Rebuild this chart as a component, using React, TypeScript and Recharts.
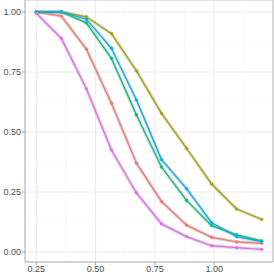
import React from "react";
import { LineChart, Line, XAxis, YAxis, ReferenceLine } from "recharts";

const xValues = [0.25, 0.3556, 0.4611, 0.5667, 0.6722, 0.7778, 0.8833, 0.9889, 1.0944, 1.2];

const redSeries = [1.0, 0.983, 0.845, 0.62, 0.37, 0.21, 0.112, 0.061, 0.042, 0.036];
const oliveSeries = [1.0, 1.0, 0.98, 0.91, 0.755, 0.578, 0.432, 0.283, 0.179, 0.136];
const greenSeries = [1.0, 1.0, 0.955, 0.807, 0.571, 0.354, 0.215, 0.11, 0.071, 0.046];
const blueSeries = [1.0, 1.0, 0.97, 0.849, 0.633, 0.385, 0.264, 0.122, 0.064, 0.043];
const purpleSeries = [0.995, 0.89, 0.68, 0.425, 0.246, 0.117, 0.064, 0.026, 0.018, 0.011];

const xTicks = [0.25, 0.5, 0.75, 1.0];
const yTicks = [0, 0.25, 0.5, 0.75, 1.0];
const xMinor = [0.375, 0.625, 0.875, 1.125];
const yMinor = [0.125, 0.375, 0.625, 0.875];

const series = [
  { key: "red", color: "#F8766D", values: redSeries },
  { key: "olive", color: "#A3A500", values: oliveSeries },
  { key: "green", color: "#00BF7D", values: greenSeries },
  { key: "blue", color: "#00B0F6", values: blueSeries },
  { key: "purple", color: "#E76BF3", values: purpleSeries },
];

const data = xValues.map((x, i) => {
  const row: Record<string, number> = { x };
  series.forEach((s) => {
    row[s.key] = s.values[i];
  });
  return row;
});

const tickStyle = { fontSize: 9, fill: "#4D4D4D", fontFamily: "Liberation Sans, Arial, sans-serif" };

export default function App() {
  return (
    <div style={{ position: "absolute", left: 0, top: 0, width: 274, height: 274, background: "#fff" }}>
      <LineChart width={274} height={274} data={data} margin={{ top: 0, right: 1, left: 0, bottom: 0 }}>
        <XAxis
          dataKey="x"
          type="number"
          domain={[0.2025, 1.2475]}
          ticks={xTicks}
          tickFormatter={(v: number) => v.toFixed(2)}
          tick={tickStyle}
          tickSize={3}
          tickMargin={1}
          height={12}
          stroke="#A6A6A6"
          allowDataOverflow
        />
        <YAxis
          type="number"
          domain={[-0.0417, 1.05]}
          ticks={yTicks}
          tickFormatter={(v: number) => v.toFixed(2)}
          tick={tickStyle}
          tickSize={3}
          tickMargin={1}
          width={25}
          stroke="#A6A6A6"
          allowDataOverflow
        />
        {xMinor.map((v) => (
          <ReferenceLine key={"xm" + v} x={v} stroke="#F5F5F5" strokeWidth={0.6} />
        ))}
        {yMinor.map((v) => (
          <ReferenceLine key={"ym" + v} y={v} stroke="#F5F5F5" strokeWidth={0.6} />
        ))}
        {xTicks.map((v) => (
          <ReferenceLine key={"xM" + v} x={v} stroke="#EBEBEB" strokeWidth={1} />
        ))}
        {yTicks.map((v) => (
          <ReferenceLine key={"yM" + v} y={v} stroke="#EBEBEB" strokeWidth={1} />
        ))}
        <ReferenceLine y={1.05} stroke="#C8C8C8" strokeWidth={1} />
        <ReferenceLine x={1.2475} stroke="#B0B0B0" strokeWidth={1} />
        {series.map((s) => (
          <Line
            key={s.key + "-band"}
            dataKey={s.key}
            stroke="#9A9A9A"
            strokeOpacity={0.35}
            strokeWidth={3.5}
            dot={false}
            activeDot={false}
            isAnimationActive={false}
          />
        ))}
        {series.map((s) => (
          <Line
            key={s.key}
            dataKey={s.key}
            stroke={s.color}
            strokeWidth={1.3}
            dot={{ r: 1.4, fill: s.color, stroke: s.color, strokeWidth: 0.5 }}
            activeDot={false}
            isAnimationActive={false}
          />
        ))}
      </LineChart>
    </div>
  );
}
